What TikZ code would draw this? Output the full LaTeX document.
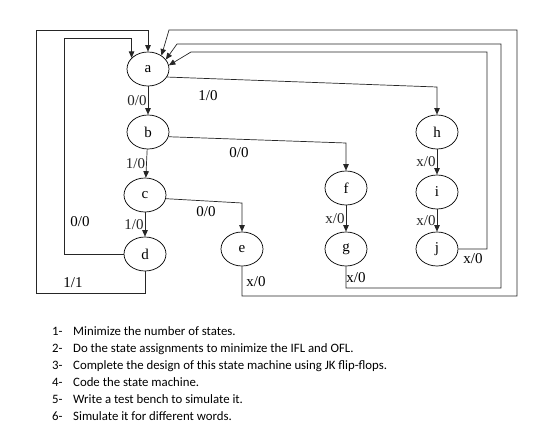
\documentclass[tikz,border=0pt]{standalone}
\usepackage{fontspec}
\setmainfont{Liberation Serif}
\newfontfamily\listfont{Carlito}
\usetikzlibrary{automata, positioning, arrows.meta, shapes.geometric}
\tikzset{
    >={Triangle[length=6.5pt,width=5.5pt]}, % small filled arrow heads
    every state/.style={ellipse, draw, line width=0.7pt, minimum width=42pt, minimum height=34pt, inner sep=0pt, font=\fontsize{15}{18}\selectfont}, % the state bubbles
    lbl/.style={font=\fontsize{15}{18}\selectfont, inner sep=1pt}, % input/output labels
    wire/.style={->, line width=0.7pt, black!85}, % every connector
    task/.style={font=\listfont\fontsize{12.8}{15}\selectfont, anchor=base west, inner sep=0pt}, % the list under the graph
}

\begin{document}
\begin{tikzpicture}[x=1pt, y=-1pt]
            \useasboundingbox (0,0) rectangle (560,434);

            \node[state] (a) at (148,69) {a};
            \node[state] (b) at (148,132) {b};
            \node[state] (c) at (145,195) {c};
            \node[state] (d) at (145,254) {d};
            \node[state] (e) at (242,249) {e};
            \node[state] (f) at (346,188) {f};
            \node[state] (g) at (346,249) {g};
            \node[state] (h) at (437,132) {h};
            \node[state] (i) at (437,192) {i};
            \node[state] (j) at (437,249) {j};

            \path[wire]
                (a) edge node[lbl, left] {0/0} (b)
                (b) edge node[lbl, left] {1/0} (c)
                (c) edge node[lbl, left] {1/0} (d)
                (f) edge node[lbl, left] {x/0} (g)
                (h) edge node[lbl, left] {x/0} (i)
                (i) edge node[lbl, left] {x/0} (j);

            % branches to the right
            \draw[wire] (a.-23) -- (h.north |- 0,87) -- (h);
            \draw[wire] (b.-13) -- (f.north |- 0,143) -- (f);
            \draw[wire] (c.-10) -- (e.north |- 0,203) -- (e);

            % everything goes back to a
            \draw[wire] (d.west) -| (64,38) -- (a.146 |- 0,38) -- (a.146);
            \draw[wire] (d.south) |- (36,293) |- (a.north |- 0,30) -- (a);
            \draw[wire] (e.south) |- (517,296) |- (169,30) -- (a.45);
            \draw[wire] (g.south) |- (501,288) |- (177,44) -- (a.28);
            \draw[wire] (j.east) -| (487,52) -- (191,52) -- (a.10);

            \node[lbl] (lah) at (208,96) {1/0};
            \node[lbl] (lbf) at (239,153) {0/0};
            \node[lbl] (lce) at (206,212) {0/0};
            \node[lbl] (lda) at (80,222) {0/0};
            \node[lbl] (ldb) at (73,283) {1/1};
            \node[lbl] (lea) at (256,282) {x/0};
            \node[lbl] (lga) at (356,278) {x/0};
            \node[lbl] (lja) at (473,259) {x/0};

            \node[task] (n1) at (52,335) {1-};
            \node[task] (t1) at (73,335) {Minimize the number of states.};
            \node[task] (n2) at (52,352) {2-};
            \node[task] (t2) at (73,352) {Do the state assignments to minimize the IFL and OFL.};
            \node[task] (n3) at (52,369) {3-};
            \node[task] (t3) at (73,369) {Complete the design of this state machine using JK flip-flops.};
            \node[task] (n4) at (52,386) {4-};
            \node[task] (t4) at (73,386) {Code the state machine.};
            \node[task] (n5) at (52,403) {5-};
            \node[task] (t5) at (73,403) {Write a test bench to simulate it.};
            \node[task] (n6) at (52,420) {6-};
            \node[task] (t6) at (73,420) {Simulate it for different words.};
        \end{tikzpicture}
\end{document}
